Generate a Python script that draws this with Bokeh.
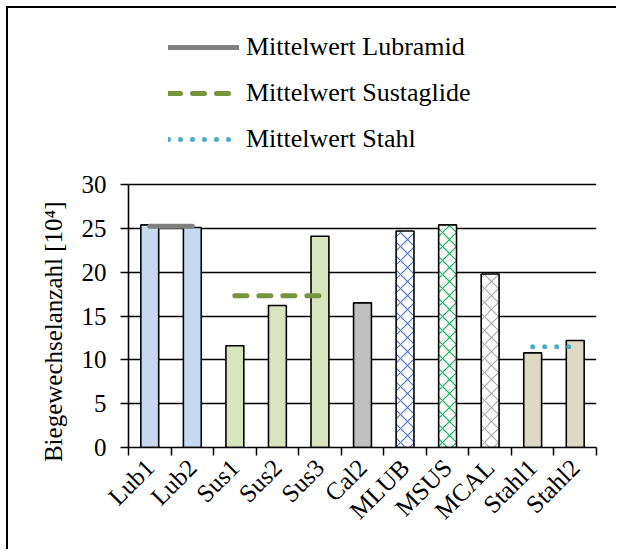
import math
from bokeh.plotting import figure
from bokeh.models import (Range1d, FixedTicker, Legend, LegendItem, ColumnDataSource)
from bokeh.embed import file_html
from bokeh.resources import INLINE

# ---- data ----
categories = ["Lub1", "Lub2", "Sus1", "Sus2", "Sus3", "Cal2", "MLUB", "MSUS", "MCAL", "Stahl1", "Stahl2"]
values = [25.4, 25.1, 11.6, 16.2, 24.1, 16.5, 24.7, 25.4, 19.8, 10.8, 12.2]
fill_colors = ["#C6D9F1", "#C6D9F1", "#D7E4BD", "#D7E4BD", "#D7E4BD", "#BFBFBF",
               "#FFFFFF", "#FFFFFF", "#FFFFFF", "#DDD9C4", "#DDD9C4"]
hatch_patterns = [" ", " ", " ", " ", " ", " ", "diagonal_cross", "diagonal_cross", "diagonal_cross", " ", " "]
hatch_colors = ["#000000"] * 6 + ["#4472C4", "#00B050", "#A6A6A6"] + ["#000000"] * 2

mean_labels = ["Mittelwert Lubramid", "Mittelwert Sustaglide", "Mittelwert Stahl"]
mean_values = [25.25, 17.3, 11.5]
mean_from = ["Lub1", "Sus1", "Stahl1"]
mean_to = ["Lub2", "Sus3", "Stahl2"]
mean_colors = ["#808080", "#77933C", "#4BACC6"]
mean_dashes = ["solid", "12 12", "0 12"]

y_ticks = [0, 5, 10, 15, 20, 25, 30]
y_label = "Biegewechselanzahl [10\u2074]"

FONT = "Liberation Serif"

n = len(categories)
centers = [i + 0.5 for i in range(n)]
boundaries = list(range(n + 1))

# frame extends up to the legend so the legend (drawn inside the frame) is not clipped;
# axis and grid are bounded to 0..30
p = figure(width=610, height=543, output_backend="svg", toolbar_location=None,
           x_range=Range1d(0, n), y_range=Range1d(0, 47.8),
           min_border_left=120, min_border_right=22, min_border_top=20, min_border_bottom=104)
p.styles = {"margin-left": "6px", "margin-top": "6px",
            "border-left": "2px solid #000000", "border-top": "2px solid #000000"}
p.outline_line_color = None
p.background_fill_color = "#FFFFFF"

src = ColumnDataSource(dict(x=centers, top=values, fill=fill_colors, hp=hatch_patterns, hc=hatch_colors))
p.vbar(x="x", top="top", bottom=0, width=0.42, source=src, fill_color="fill",
       line_color="#000000", line_width=1.6, hatch_pattern="hp", hatch_color="hc",
       hatch_scale=14, hatch_weight=1.1)

items = []
for lab, val, a, b, col, dash in zip(mean_labels, mean_values, mean_from, mean_to, mean_colors, mean_dashes):
    x0 = centers[categories.index(a)]
    x1 = centers[categories.index(b)]
    r = p.line([x0, x1], [val, val], line_color=col, line_width=5, line_dash=dash, line_cap="round")
    items.append(LegendItem(label=lab, renderers=[r]))

legend = Legend(items=items, location=(40, 293), orientation="vertical",
                label_text_font=FONT, label_text_font_size="26px", label_text_color="#000000",
                glyph_width=71, glyph_height=24, label_height=24, label_standoff=7,
                spacing=16, padding=0, margin=0, border_line_color=None,
                background_fill_alpha=0)
p.add_layout(legend, "center")

# axes
p.xaxis.ticker = FixedTicker(ticks=centers, minor_ticks=boundaries)
p.xaxis.major_label_overrides = {c: lab for c, lab in zip(centers, categories)}
p.xaxis.major_tick_out = 0
p.xaxis.major_tick_in = 0
p.xaxis.minor_tick_out = 8
p.xaxis.minor_tick_in = 0
p.xaxis.minor_tick_line_color = "#000000"
p.xaxis.minor_tick_line_width = 1.5
p.xaxis.major_label_orientation = math.pi / 4
p.xaxis.major_label_standoff = 8
p.xaxis.axis_line_color = "#000000"
p.xaxis.axis_line_width = 1.6

p.yaxis.ticker = FixedTicker(ticks=y_ticks)
p.yaxis.bounds = (y_ticks[0], y_ticks[-1])
p.yaxis.minor_tick_line_color = None
p.yaxis.major_tick_out = 8
p.yaxis.major_tick_in = 0
p.yaxis.major_tick_line_color = "#000000"
p.yaxis.major_tick_line_width = 1.5
p.yaxis.axis_line_color = "#000000"
p.yaxis.axis_line_width = 1.6
p.yaxis.major_label_standoff = 14
# em spaces after the label move the visible text down to the middle of the 0..30 axis
p.yaxis.axis_label = y_label + "\u2003" * 7 + "\u2002"
p.yaxis.axis_label_standoff = 12
p.yaxis.axis_label_text_font_style = "normal"

for ax in (p.xaxis, p.yaxis):
    ax.major_label_text_font = FONT
    ax.major_label_text_font_size = "25px"
    ax.major_label_text_color = "#000000"
    ax.axis_label_text_font = FONT
    ax.axis_label_text_font_size = "25px"
    ax.axis_label_text_color = "#000000"

p.xgrid.grid_line_color = None
p.ygrid.ticker = FixedTicker(ticks=y_ticks)
p.ygrid.grid_line_color = "#000000"
p.ygrid.grid_line_width = 1.5

open("out.html", "w").write(file_html(p, INLINE))
